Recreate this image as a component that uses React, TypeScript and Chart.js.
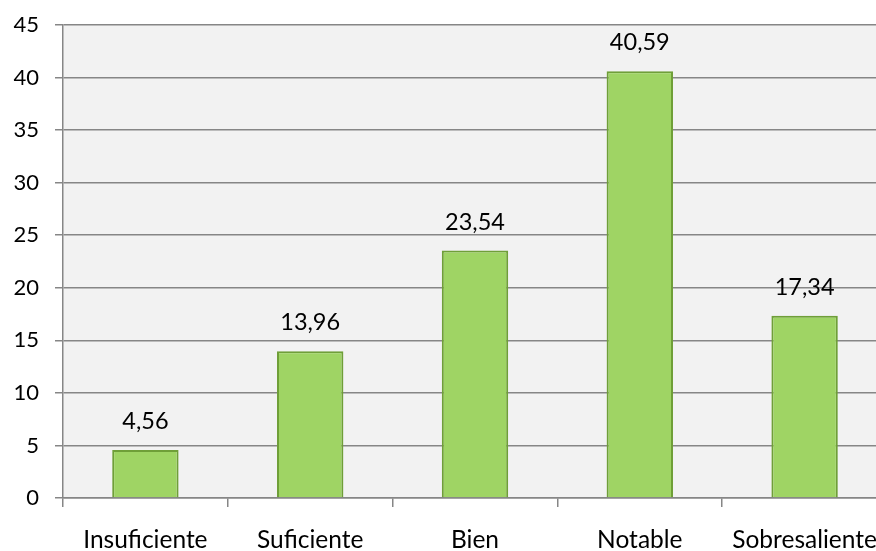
import React, { useEffect, useRef } from "react";
import { Chart, registerables } from "chart.js";

Chart.register(...registerables);

const categories = ["Insuficiente", "Suficiente", "Bien", "Notable", "Sobresaliente"];
const values = [4.56, 13.96, 23.54, 40.59, 17.34];
const valueLabels = ["4,56", "13,96", "23,54", "40,59", "17,34"];
const yMin = 0;
const yMax = 45;
const yStep = 5;

const FONT = "Lato, 'Open Sans', sans-serif";

const bgPlugin = {
  id: "plotBg",
  beforeDraw(chart: any) {
    const { ctx, chartArea } = chart;
    ctx.save();
    ctx.fillStyle = "#f2f2f2";
    ctx.fillRect(chartArea.left, chartArea.top, chartArea.right - chartArea.left, chartArea.bottom - chartArea.top);
    ctx.restore();
  },
};

const labelPlugin = {
  id: "valueLabels",
  afterDatasetsDraw(chart: any) {
    const { ctx } = chart;
    const meta = chart.getDatasetMeta(0);
    ctx.save();
    ctx.font = `23.5px ${FONT}`;
    ctx.fillStyle = "#000";
    ctx.textAlign = "center";
    ctx.textBaseline = "alphabetic";
    meta.data.forEach((bar: any, i: number) => {
      ctx.fillText(valueLabels[i], bar.x, bar.y - 21);
    });
    ctx.restore();
  },
};

export default function App() {
  const ref = useRef<HTMLCanvasElement | null>(null);
  useEffect(() => {
    if (!ref.current) return;
    const chart = new Chart(ref.current, {
      type: "bar",
      data: {
        labels: categories,
        datasets: [
          {
            data: values,
            backgroundColor: "#9fd464",
            borderColor: "#6f9f38",
            borderWidth: 2,
            barPercentage: 0.403,
            categoryPercentage: 1,
          },
        ],
      },
      options: {
        responsive: false,
        animation: false,
        layout: { padding: { top: 25, right: 3, left: 0, bottom: 0 } },
        plugins: { legend: { display: false }, tooltip: { enabled: false } },
        scales: {
          x: {
            offset: true,
            grid: {
              offset: true,
              drawOnChartArea: false,
              drawTicks: true,
              tickLength: 9,
              color: "#868686",
              lineWidth: 1.5,
            },
            border: { color: "#868686", width: 1.5 },
            ticks: { color: "#000", font: { family: FONT, size: 24.5 }, padding: 18, maxRotation: 0 },
            afterFit(scale: any) {
              scale.height = 53;
              scale.paddingLeft = 0;
              scale.paddingRight = 0;
            },
          },
          y: {
            min: yMin,
            max: yMax,
            ticks: { stepSize: yStep, color: "#000", font: { family: FONT, size: 22 }, padding: 16 },
            grid: { color: "#868686", lineWidth: 1.5, tickLength: 8 },
            border: { color: "#868686", width: 1.5 },
            afterFit(scale: any) {
              scale.width = 63;
              scale.paddingTop = 0;
              scale.paddingBottom = 0;
            },
          },
        },
      },
      plugins: [bgPlugin, labelPlugin],
    });
    return () => chart.destroy();
  }, []);
  return (
    <div style={{ position: "fixed", left: 0, top: 0, width: 876, height: 551, overflow: "hidden", background: "#fff" }}>
      <canvas ref={ref} width={890} height={551} style={{ display: "block" }} />
    </div>
  );
}
